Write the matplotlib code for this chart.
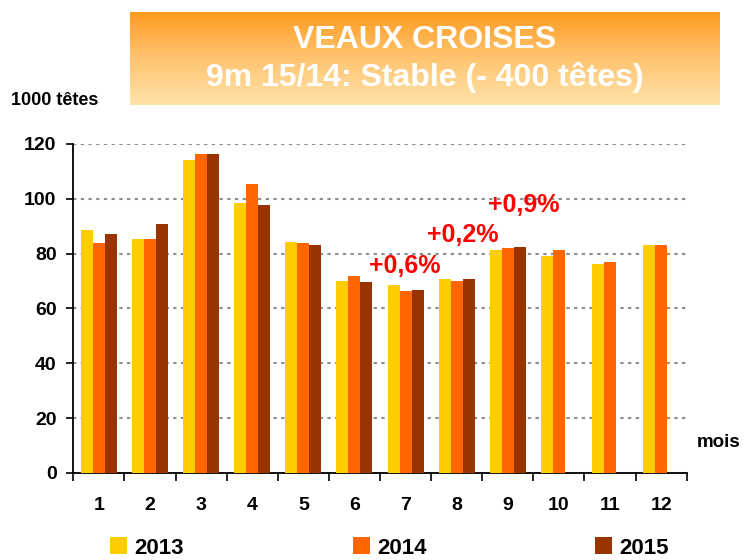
import numpy as np
import matplotlib
matplotlib.use("Agg")
import matplotlib.pyplot as plt
from matplotlib.colors import LinearSegmentedColormap

months = ["1", "2", "3", "4", "5", "6", "7", "8", "9", "10", "11", "12"]
v2013 = [88.8, 85.2, 114.1, 98.4, 84.1, 70.2, 68.4, 70.6, 81.2, 79.0, 76.1, 83.0]
v2014 = [83.7, 85.2, 116.3, 105.3, 83.7, 72.0, 66.2, 70.2, 81.9, 81.2, 77.1, 83.0]
v2015 = [87.3, 90.7, 116.5, 97.6, 83.1, 69.6, 66.9, 70.9, 82.6]
series_names = ["2013", "2014", "2015"]
colors = ["#FFCC00", "#FF6600", "#993300"]
annotations = [("+0,6%", 6.99, 75.5), ("+0,2%", 8.12, 86.8), ("+0,9%", 9.32, 97.7)]
title1 = "VEAUX CROISES"
title2 = "9m 15/14: Stable (- 400 têtes)"

plt.rcParams['font.family'] = ['Liberation Sans', 'DejaVu Sans']

fig = plt.figure(figsize=(7.44, 5.6), dpi=100)

# title box with gradient
bax = fig.add_axes([0.1747, 0.8125, 0.793, 0.1661])
cmap = LinearSegmentedColormap.from_list("g", ["#FF9A1E", "#FFC470", "#FFE3AA"])
grad = np.linspace(0, 1, 256).reshape(-1, 1)
bax.imshow(grad, aspect='auto', cmap=cmap, extent=[0, 1, 0, 1], origin='upper')
bax.set_axis_off()
fig.text(0.571, 0.929, title1, ha='center', va='center', color='white',
         fontsize=23, fontweight='bold')
fig.text(0.571, 0.861, title2, ha='center', va='center', color='white',
         fontsize=23, fontweight='bold')

ax = fig.add_axes([0.0985, 0.1554, 0.8245, 0.5875])
x = np.arange(1, len(months) + 1)
w = 0.235
data = [v2013, v2014, v2015]
handles = []
for i, (vals, c, name) in enumerate(zip(data, colors, series_names)):
    xs = x[:len(vals)] + (i - 1) * w
    b = ax.bar(xs, vals, width=w, color=c, label=name, zorder=3)
    handles.append(b)

ax.set_xlim(0.5, 12.5)
ax.set_ylim(0, 120)
ax.set_yticks(np.arange(0, 121, 20))
ax.yaxis.grid(True, color='#8E8E8E', linestyle=(0, (1.6, 2.1)), linewidth=1.5, zorder=0)
ax.set_axisbelow(True)
for s in ['top', 'right']:
    ax.spines[s].set_visible(False)
ax.spines['left'].set_linewidth(1.3)
ax.spines['bottom'].set_linewidth(1.3)

ax.set_xticks(x)
ax.set_xticklabels(months, fontsize=14, fontweight='bold')
ax.tick_params(axis='x', which='major', length=0, pad=17)
ax.set_xticks(np.arange(0.5, 12.6, 1), minor=True)
ax.tick_params(axis='x', which='minor', length=6, width=1.2, direction='out')
ax.tick_params(axis='y', length=5, width=1.2, direction='out', labelsize=14, pad=7)
for lab in ax.get_yticklabels():
    lab.set_fontweight('bold')

for txt, xx, yy in annotations:
    ax.text(xx, yy, txt, color='#FF0000', fontsize=18, fontweight='bold',
            ha='center', va='center', zorder=5)

fig.text(0.015, 0.820, "1000 têtes", fontsize=13, fontweight='bold', ha='left', va='center')
fig.text(0.937, 0.209, "mois", fontsize=13.5, fontweight='bold', ha='left', va='center')

leg = fig.legend(handles, series_names, loc='center left',
                 bbox_to_anchor=(110 / 744, 1 - 548 / 560),
                 ncol=3, frameon=False, prop={'weight': 'bold', 'size': 16},
                 handlelength=0.77, handleheight=0.8, handletextpad=0.32,
                 columnspacing=7.6, borderpad=0, borderaxespad=0)

fig.savefig("out.png", dpi=100)
